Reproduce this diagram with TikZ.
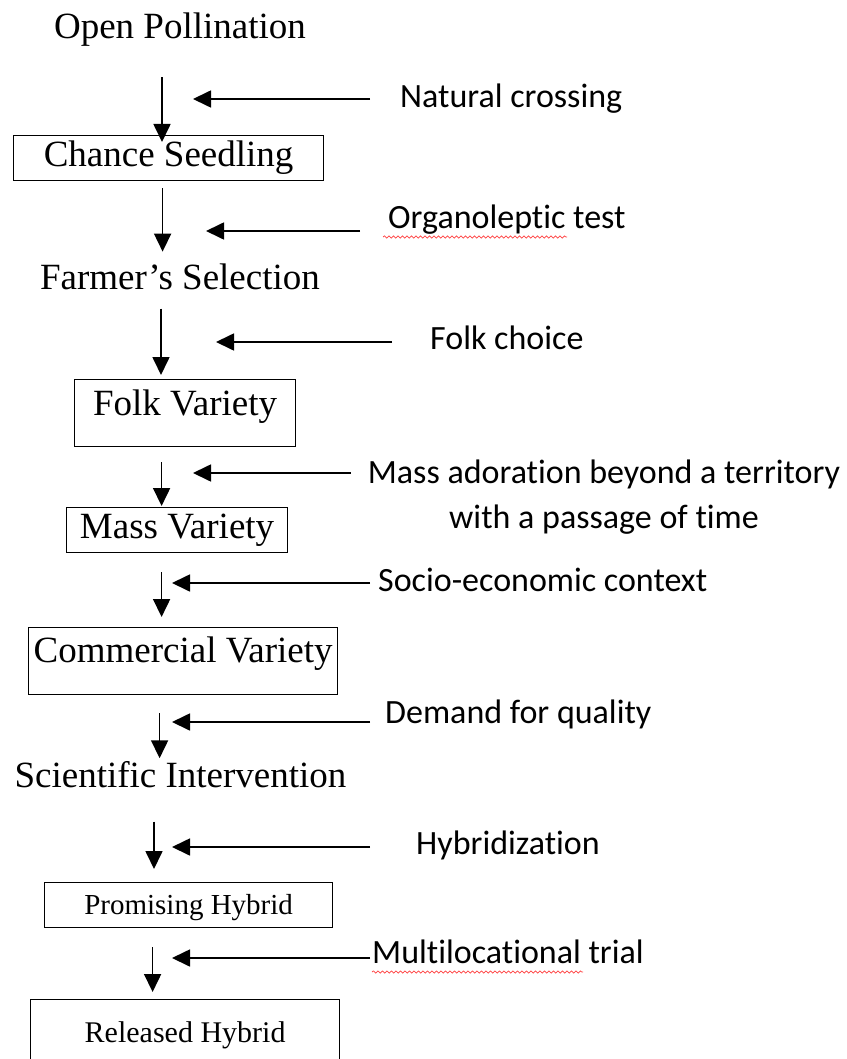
\documentclass[tikz,border=0pt]{standalone}
\usepackage{fontspec}
\setmainfont{Liberation Serif}
\newfontfamily\labelfont[Ligatures=NoCommon]{Carlito}
\usetikzlibrary{arrows.meta,decorations.pathmorphing}

\begin{document}
\begin{tikzpicture}[
    x=1pt, y=-1pt,
    stage/.style={inner sep=0pt, anchor=base, font=\fontsize{37}{44}\selectfont},
    stagebox/.style={draw, line width=1.2pt, inner sep=0pt, anchor=north west, font=\fontsize{37}{44}\selectfont},
    note/.style={inner sep=0pt, anchor=base west, font=\labelfont\fontsize{34}{45}\selectfont},
    flow/.style={-{Triangle[length=18pt, width=17pt]}, line width=1.7pt},
    spell/.style={red!75, line width=0.7pt, decorate, decoration={snake, amplitude=1.1pt, segment length=4.5pt}}
]
    \useasboundingbox (0,0) rectangle (846,1059);

    \node[stage] (open) at (180,39) {Open Pollination};
    \node[stagebox, minimum width=310pt, text height=31pt, text depth=14pt] (chance) at (13,135) {Chance Seedling};
    \node[stage] (farmer) at (180,289) {Farmer’s Selection};
    \node[stagebox, minimum width=221pt, text height=36pt, text depth=31pt] (folk) at (74,379) {Folk Variety};
    \node[stagebox, minimum width=221pt, text height=31pt, text depth=14pt] (mass) at (66,507) {Mass Variety};
    \node[stagebox, minimum width=309pt, text height=35pt, text depth=32pt] (commercial) at (28,627) {Commercial Variety};
    \node[stage] (scientific) at (180.5,787) {Scientific Intervention};
    \node[stagebox, minimum width=288pt, text height=32pt, text depth=13pt, font=\fontsize{29}{35}\selectfont] (promising) at (44,882) {Promising Hybrid};
    \node[stagebox, minimum width=309pt, text height=43pt, text depth=40pt, font=\fontsize{30}{36}\selectfont] (released) at (30,999) {Released Hybrid};

    \node[note] (natural) at (400,108) {Natural crossing};
    \node[note] (organo) at (388,229) {Organoleptic test};
    \node[note] (folkchoice) at (430,349) {Folk choice};
    \node[note, anchor=base, align=center] (adoration) at (604,528) {Mass adoration beyond a territory\\with a passage of time};
    \node[note] (socio) at (378,591) {Socio-economic context};
    \node[note] (demand) at (385,723) {Demand for quality};
    \node[note] (hybridization) at (416,854) {Hybridization};
    \node[note] (multiloc) at (372,963) {Multilocational trial};

    \coordinate (in1) at (193,99);
    \coordinate (in2) at (206,231);
    \coordinate (in3) at (216,342);
    \coordinate (in4) at (193,473);
    \coordinate (in5) at (172,583);
    \coordinate (in6) at (172,722);
    \coordinate (in7) at (172,847);
    \coordinate (in8) at (172,958);

    \draw[flow, shorten >=-7pt] ([xshift=-18pt, yshift=-30pt]open.south) coordinate (s1) -- (s1 |- chance.north);
    \draw[flow, shorten >=11.5pt] ([xshift=-6pt, yshift=-7pt]chance.south) coordinate (s2) -- (s2 |- farmer.north);
    \draw[flow, shorten >=4pt] ([xshift=-19pt, yshift=-19pt]farmer.south) coordinate (s3) -- (s3 |- folk.north);
    \draw[flow, shorten >=1pt] ([xshift=-23.5pt, yshift=-15pt]folk.south) coordinate (s4) -- (s4 |- mass.north);
    \draw[flow, shorten >=10pt] ([xshift=-15.5pt, yshift=-19pt]mass.south) coordinate (s5) -- (s5 |- commercial.north);
    \draw[flow, shorten >=2.5pt] ([xshift=-23.5pt, yshift=-18pt]commercial.south) coordinate (s6) -- (s6 |- scientific.north);
    \draw[flow, shorten >=13pt] ([xshift=-26.5pt, yshift=-34pt]scientific.south) coordinate (s7) -- (s7 |- promising.north);
    \draw[flow, shorten >=7pt] ([xshift=-36pt, yshift=-19pt]promising.south) coordinate (s8) -- (s8 |- released.north);

    \draw[flow, shorten <=30pt] (natural.west |- in1) -- (in1);
    \draw[flow, shorten <=28pt] (organo.west |- in2) -- (in2);
    \draw[flow, shorten <=38pt] (folkchoice.west |- in3) -- (in3);
    \draw[flow, shorten <=17pt] (adoration.west |- in4) -- (in4);
    \draw[flow, shorten <=8pt] (socio.west |- in5) -- (in5);
    \draw[flow, shorten <=15pt] (demand.west |- in6) -- (in6);
    \draw[flow, shorten <=46pt] (hybridization.west |- in7) -- (in7);
    \draw[flow, shorten <=2pt] (multiloc.west |- in8) -- (in8);

    \draw[spell] ([xshift=-5pt, yshift=-8pt]organo.base west) -- ([xshift=179pt, yshift=-8pt]organo.base west);
    \draw[spell] ([yshift=-9pt]multiloc.base west) -- ([xshift=211pt, yshift=-9pt]multiloc.base west);
\end{tikzpicture}
\end{document}
